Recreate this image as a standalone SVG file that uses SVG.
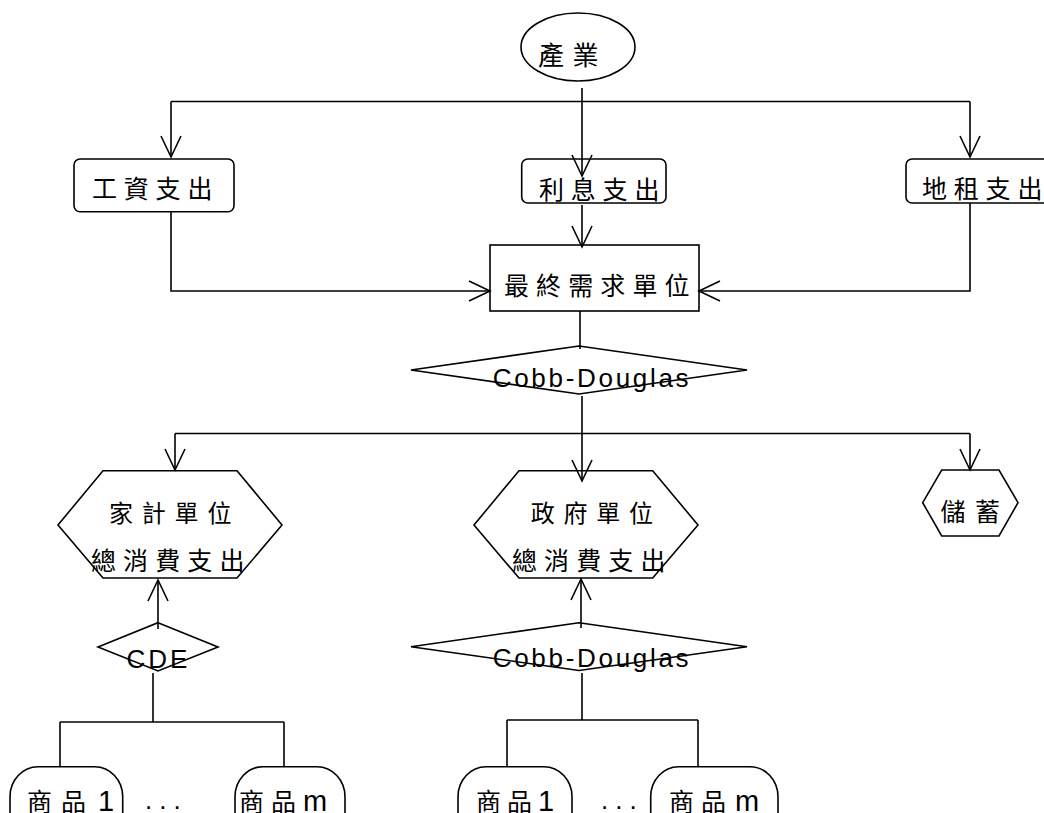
<svg xmlns="http://www.w3.org/2000/svg" width="1044" height="813" viewBox="0 0 1044 813">
<defs>
<marker id="arr" markerUnits="userSpaceOnUse" markerWidth="30" markerHeight="30" viewBox="-25 -15 30 30" refX="0" refY="0" orient="auto">
<path d="M-21,-10 L0,0 L-21,10" fill="none" stroke="#000" stroke-width="1.6"/>
</marker>
</defs>
<style>
.shape{fill:#fff;stroke:#000;stroke-width:1.6}
.ln{fill:none;stroke:#000;stroke-width:1.6}
.cjk{font-family:"Noto Sans CJK TC","Noto Sans CJK JP",sans-serif;font-size:25px;fill:#000}
.lat{font-family:"Liberation Sans",Arial,sans-serif;font-size:26px;fill:#000;letter-spacing:2.7px}
.big{font-family:"Liberation Sans",Arial,sans-serif;font-size:29px}
</style>
<rect width="1044" height="813" fill="#fff"/>

<g id="industry">
<ellipse class="shape" cx="578" cy="47" rx="57" ry="34"/>
<text class="cjk" x="538" y="65" style="font-size:26px;letter-spacing:8.6px">產業</text>
</g>

<g id="wage">
<rect class="shape" x="74" y="159" width="160" height="52.7" rx="6"/>
<text class="cjk" x="92" y="198" style="letter-spacing:6.8px">工資支出</text>
</g>

<g id="interest">
<rect class="shape" x="521.7" y="159" width="144.3" height="44" rx="6"/>
<text class="cjk" x="539" y="199.3" style="letter-spacing:6.8px">利息支出</text>
</g>

<g id="rent">
<rect class="shape" x="906" y="159" width="160" height="44" rx="6"/>
<text class="cjk" x="922" y="198" style="letter-spacing:6.8px">地租支出</text>
</g>

<g id="final">
<rect class="shape" x="490" y="245" width="209" height="66"/>
<text class="cjk" x="504" y="294.5" style="letter-spacing:7.1px">最終需求單位</text>
</g>

<g id="cd1">
<polygon class="shape" points="579,346 747,370 579,394 411,370"/>
<text class="lat" x="492.7" y="386.7">Cobb-Douglas</text>
</g>

<g id="household">
<polygon class="shape" points="103,470.7 237,470.7 282,525 237,578 103,578 58,525"/>
<text class="cjk" x="109" y="522" style="font-size:24px;letter-spacing:8.8px">家計單位</text>
<text class="cjk" x="91" y="569.5" style="letter-spacing:7.1px">總消費支出</text>
</g>

<g id="government">
<polygon class="shape" points="519,470.7 652.7,470.7 698,525 652.7,578 519,578 474,525"/>
<text class="cjk" x="530.7" y="521.5" style="font-size:24px;letter-spacing:8.8px">政府單位</text>
<text class="cjk" x="512" y="570" style="letter-spacing:7.1px">總消費支出</text>
</g>

<g id="saving">
<polygon class="shape" points="941.7,470 999,470 1018,502.7 999,536 941.7,536 922.7,502.7"/>
<text class="cjk" x="940.5" y="521" style="letter-spacing:9.5px">儲蓄</text>
</g>

<g id="cde">
<polygon class="shape" points="158,622.7 218,647 158,671 98,647"/>
<text class="lat" x="126.5" y="668" style="letter-spacing:3px">CDE</text>
</g>

<g id="cd2">
<polygon class="shape" points="579,622.7 747,646.7 579,670.5 411,646.7"/>
<text class="lat" x="492.7" y="667.3">Cobb-Douglas</text>
</g>

<g id="h-good1">
<rect class="shape" x="10" y="766.7" width="112.7" height="90" rx="28" ry="30"/>
<text class="cjk" x="27 61" y="811">商品 <tspan class="big" x="98">1</tspan></text>
</g>

<g id="h-dots">
<text class="lat" x="145" y="809" style="letter-spacing:7px">...</text>
</g>

<g id="h-goodm">
<rect class="shape" x="235" y="766.7" width="110" height="90" rx="28" ry="30"/>
<text class="cjk" x="239 271" y="811">商品 <tspan class="big" x="303">m</tspan></text>
</g>

<g id="g-good1">
<rect class="shape" x="458" y="766.7" width="114" height="90" rx="28" ry="30"/>
<text class="cjk" x="476 507" y="811">商品 <tspan class="big" x="538">1</tspan></text>
</g>

<g id="g-dots">
<text class="lat" x="601" y="809" style="letter-spacing:7px">...</text>
</g>

<g id="g-goodm">
<rect class="shape" x="650.7" y="766.7" width="127.3" height="90" rx="28" ry="30"/>
<text class="cjk" x="669 701" y="811">商品 <tspan class="big" x="735">m</tspan></text>
</g>

<g id="connectors">
<path class="ln" d="M171,101.5 H970"/>
<path class="ln" d="M171,101.5 V157" marker-end="url(#arr)"/>
<path class="ln" d="M582,88 V176" marker-end="url(#arr)"/>
<path class="ln" d="M970,101.5 V157" marker-end="url(#arr)"/>
<path class="ln" d="M582,205 V247" marker-end="url(#arr)"/>
<path class="ln" d="M171,212 V291 H490" marker-end="url(#arr)"/>
<path class="ln" d="M970,203 V291 H699" marker-end="url(#arr)"/>
<path class="ln" d="M580,311 V349"/>
<path class="ln" d="M175,433.5 H970"/>
<path class="ln" d="M582,396 V481" marker-end="url(#arr)"/>
<path class="ln" d="M175,433.5 V470" marker-end="url(#arr)"/>
<path class="ln" d="M970,433.5 V470" marker-end="url(#arr)"/>
<path class="ln" d="M158,629 V580" marker-end="url(#arr)"/>
<path class="ln" d="M581,628 V579" marker-end="url(#arr)"/>
<path class="ln" d="M153,673 V722"/>
<path class="ln" d="M60,722 H284"/>
<path class="ln" d="M60,722 V766"/>
<path class="ln" d="M284,722 V766"/>
<path class="ln" d="M582,673 V720"/>
<path class="ln" d="M507,720 H698"/>
<path class="ln" d="M507,720 V766"/>
<path class="ln" d="M698,720 V766"/>
</g>
</svg>
